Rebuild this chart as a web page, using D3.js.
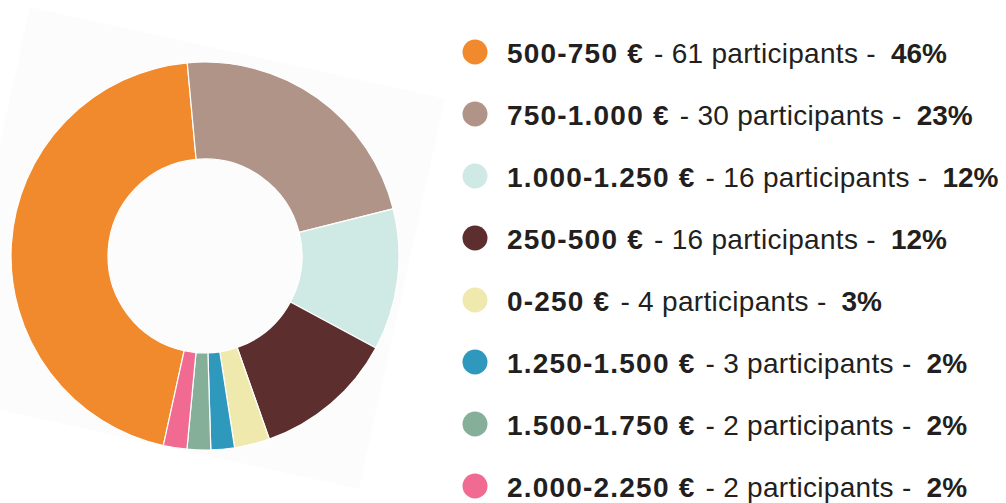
<!DOCTYPE html>
<html>
<head>
<meta charset="utf-8">
<script src="https://cdn.jsdelivr.net/npm/d3@7"></script>
<style>
	body { margin: 0; background: #fff; }
	svg { display: block; }
	text { font-family: "Liberation Sans", Arial, sans-serif; fill: #231f20; }
</style>
</head>
<body>
<div id="chart"></div>
<script>
// salary ranges, in legend order (also the clockwise order of the ring)
var categories = ["500-750 €", "750-1.000 €", "1.000-1.250 €", "250-500 €",
	"0-250 €", "1.250-1.500 €", "1.500-1.750 €", "2.000-2.250 €"];
var participants = [61, 30, 16, 16, 4, 3, 2, 2];
// the ring is drawn from the rounded percentages
var percents = [46, 23, 12, 12, 3, 2, 2, 2];
var colors = ["#f08a2c", "#b09488", "#cfe9e4", "#5c2e2e",
	"#f0e9ae", "#2e98bd", "#86af9a", "#f06a92"];

var width = 1006,
	height = 503;

var svg = d3.select("#chart").append("svg")
		.attr("width", width)
		.attr("height", height);

var cx = 205, cy = 256,
	outerR = 194, innerR = 97;

// faint tilted card behind the ring
svg.append("rect")
		.attr("x", -212)
		.attr("y", -200)
		.attr("width", 425)
		.attr("height", 400)
		.attr("fill", "#fcfcfc")
		.attr("transform", `translate(${cx - 11}, ${cy - 8}) rotate(12.4)`);

var data = categories.map((c, i) => ({
	label: c,
	count: participants[i],
	value: percents[i],
	color: colors[i]
}));

var start = 192.4 * Math.PI / 180;
var pie = d3.pie()
		.sort(null)
		.value(d => d.value)
		.startAngle(start)
		.endAngle(start + 2 * Math.PI);

var arc = d3.arc()
		.innerRadius(innerR)
		.outerRadius(outerR);

svg.append("g")
		.attr("transform", `translate(${cx}, ${cy})`)
	.selectAll("path")
		.data(pie(data))
	.enter().append("path")
		.attr("d", arc)
		.attr("fill", d => d.data.color)
		.attr("stroke", "#fff")
		.attr("stroke-width", 1.2);

// legend
var rowY = d3.scalePoint()
		.domain(categories)
		.range([63, 63 + 62 * (categories.length - 1)]);

var rows = svg.append("g")
	.selectAll(".row")
		.data(data)
	.enter().append("g")
		.attr("class", "row")
		.attr("transform", d => `translate(0, ${rowY(d.label)})`);

rows.append("circle")
		.attr("cx", 475)
		.attr("cy", -11)
		.attr("r", 12.5)
		.attr("fill", d => d.color);

var txt = rows.append("text")
		.attr("x", 507)
		.attr("y", 0)
		.style("font-size", "28px");

txt.append("tspan")
		.style("font-weight", "bold")
		.style("letter-spacing", "1.2px")
		.text(d => d.label);
txt.append("tspan")
		.attr("dx", 10)
		.style("letter-spacing", "0.3px")
		.text(d => `- ${d.count} participants -`);
txt.append("tspan")
		.attr("dx", 15)
		.style("font-weight", "bold")
		.text(d => d.value + "%");
</script>
</body>
</html>
